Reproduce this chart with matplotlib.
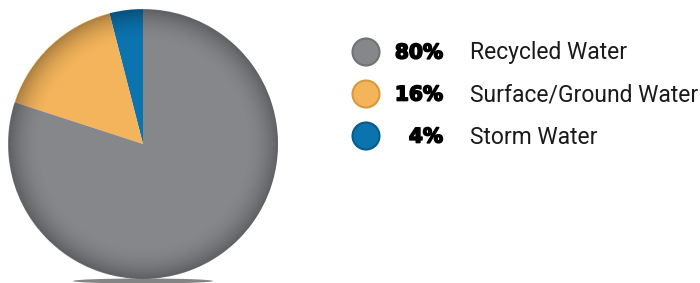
import matplotlib
matplotlib.use('Agg')
import matplotlib.pyplot as plt
import matplotlib.patheffects as pe
import numpy as np

# Data
labels = ['Recycled Water', 'Surface/Ground Water', 'Storm Water']
shares = [80, 16, 4]
colors = ['#85878b', '#f3b45b', '#0b73ae']
edge_colors = ['#707276', '#d99a3e', '#085a8a']

fig = plt.figure(figsize=(7, 2.83), dpi=100)
W, H = 700, 283

# Pie axes, placed in pixel terms
cx, cy, r = 143, 144, 135
ax = fig.add_axes([(cx - r) / W, (H - cy - r) / H, 2 * r / W, 2 * r / H])
ax.set_aspect('equal')
ax.axis('off')

# order counterclockwise from 12 o'clock: storm, surface, recycled
order = [2, 1, 0]
wedges, _ = ax.pie([shares[i] for i in order], colors=[colors[i] for i in order],
                   startangle=90, counterclock=True, radius=1,
                   wedgeprops=dict(linewidth=0))
ax.set_xlim(-1.0, 1.0)
ax.set_ylim(-1.0, 1.0)

# soft shading to get the rounded look
n = 400
xx, yy = np.meshgrid(np.linspace(-1, 1, n), np.linspace(-1, 1, n))
rr = np.sqrt(xx**2 + yy**2)
shade = np.clip((rr - 0.75) / 0.25, 0, 1) ** 2 * 0.3
rgba = np.zeros((n, n, 4))
rgba[..., 3] = np.where(rr <= 1.0, shade, 0)
im = ax.imshow(rgba, extent=(-1, 1, -1, 1), origin='lower',
               zorder=5, interpolation='bilinear')
clip = matplotlib.patches.Circle((0, 0), 1.0, transform=ax.transData)
im.set_clip_path(clip)

# Legend drawn in a full figure overlay, pixel coordinates
lax = fig.add_axes([0, 0, 1, 1])
lax.set_xlim(0, W)
lax.set_ylim(H, 0)
lax.axis('off')
lax.patch.set_alpha(0)

# shadow under the pie
lax.add_patch(matplotlib.patches.Ellipse((143, 281), 140, 5,
                                         facecolor='#333333', alpha=0.6, lw=0,
                                         zorder=0))

heavy = [pe.withStroke(linewidth=1.2, foreground='black')]
rows_y = [52, 94, 136]
for y, lab, s, c, ec in zip(rows_y, labels, shares, colors, edge_colors):
    lax.add_patch(matplotlib.patches.Circle((366, y), 13.5, facecolor=c,
                                            edgecolor=ec, lw=1.5))
    lax.text(443, y + 1, f'{s}%', ha='right', va='center', fontsize=14.5,
             fontweight='heavy', family='DejaVu Sans', color='black',
             path_effects=heavy)
    lax.text(470, y + 1, lab, ha='left', va='center', fontsize=16.5,
             family='Roboto', color='#1a1a1a')

fig.savefig('out.png', dpi=100)
